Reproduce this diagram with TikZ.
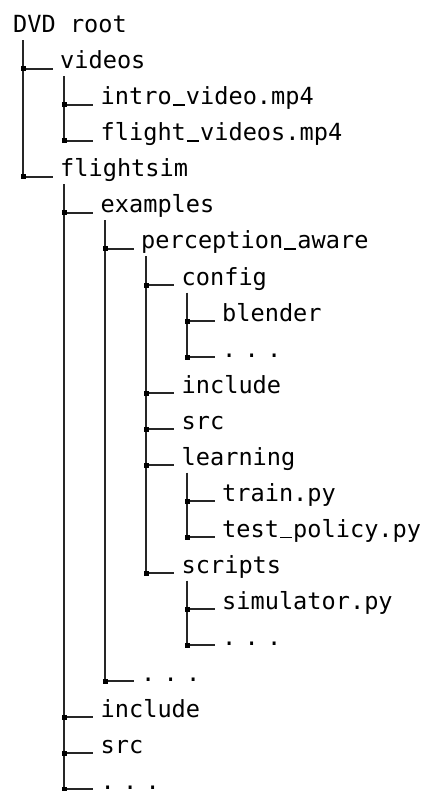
\documentclass[tikz,border=0pt]{standalone}
\usepackage{fontspec}
\newfontfamily\treefont{DejaVu Sans Mono}
\newcommand\tdots{.\kern8.3pt.\kern8.3pt.}
\newcommand\us{\kern1.1pt\rule[-0.8pt]{12pt}{1.3pt}\kern1.1pt}
\tikzset{
  txt/.style={anchor=base west, inner sep=0pt, font=\treefont\fontsize{23.6}{28}\selectfont, text=black},
  trunk/.style={draw=black!85, line width=1.1pt},
  twig/.style={draw=black!85, line width=1.1pt},
  sq/.style={rectangle, fill=black, draw=none, inner sep=0pt, minimum width=5pt, minimum height=5pt},
}
% name, level, row, text
\newcommand\entry[4]{%
  \pgfmathsetmacro\ex{#2==0 ? 13 : 60+40.5*(#2-1)}%
  \pgfmathsetmacro\ey{33+36*#3}%
  \pgfmathsetmacro\jx{23+41*(#2-1)}%
  \pgfmathsetmacro\vx{23+41*#2}%
  \node[txt] (#1) at (\ex,\ey) {#4};
  \coordinate (#1-j) at (\jx,\ey);
  \coordinate (#1-e) at (\ex-7.5,\ey);
  \coordinate (#1-v) at (\vx,\ey+7.5);
}
\newcommand\twig[1]{%
  \draw[twig] (#1-j) -- (#1-e);
  \node[sq] (#1-s) at (#1-j) {};
}
\begin{document}
\begin{tikzpicture}[x=1pt,y=-1pt]
\useasboundingbox (0,0) rectangle (422,791);
\clip (0,0) rectangle (422,791);
\entry{root}{0}{0}{DVD root}
\entry{videos}{1}{1}{videos}
\entry{intro}{2}{2}{intro\us video.mp4}
\entry{flight}{2}{3}{flight\us videos.mp4}
\entry{fsim}{1}{4}{flightsim}
\entry{examples}{2}{5}{examples}
\entry{percep}{3}{6}{perception\us aware}
\entry{config}{4}{7}{config}
\entry{blender}{5}{8}{blender}
\entry{cdots}{5}{9}{\tdots}
\entry{pinclude}{4}{10}{include}
\entry{psrc}{4}{11}{src}
\entry{learning}{4}{12}{learning}
\entry{train}{5}{13}{train.py}
\entry{test}{5}{14}{test\us policy.py}
\entry{scripts}{4}{15}{scripts}
\entry{simulator}{5}{16}{simulator.py}
\entry{sdots}{5}{17}{\tdots}
\entry{edots}{3}{18}{\tdots}
\entry{finclude}{2}{19}{include}
\entry{fsrc}{2}{20}{src}
\entry{fdots}{2}{21}{\tdots}
% trunks
\draw[trunk] (root-v) -- (fsim-j);
\draw[trunk] (videos-v) -- (flight-j);
\draw[trunk] (fsim-v) -- (fdots-j);
\draw[trunk] (examples-v) -- (edots-j);
\draw[trunk] (percep-v) -- (scripts-j);
\draw[trunk] (config-v) -- (cdots-j);
\draw[trunk] (learning-v) -- (test-j);
\draw[trunk] (scripts-v) -- (sdots-j);
% twigs
\twig{videos}\twig{intro}\twig{flight}\twig{fsim}\twig{examples}
\twig{percep}\twig{config}\twig{blender}\twig{cdots}\twig{pinclude}
\twig{psrc}\twig{learning}\twig{train}\twig{test}\twig{scripts}
\twig{simulator}\twig{sdots}\twig{edots}\twig{finclude}\twig{fsrc}\twig{fdots}
\end{tikzpicture}
\end{document}
